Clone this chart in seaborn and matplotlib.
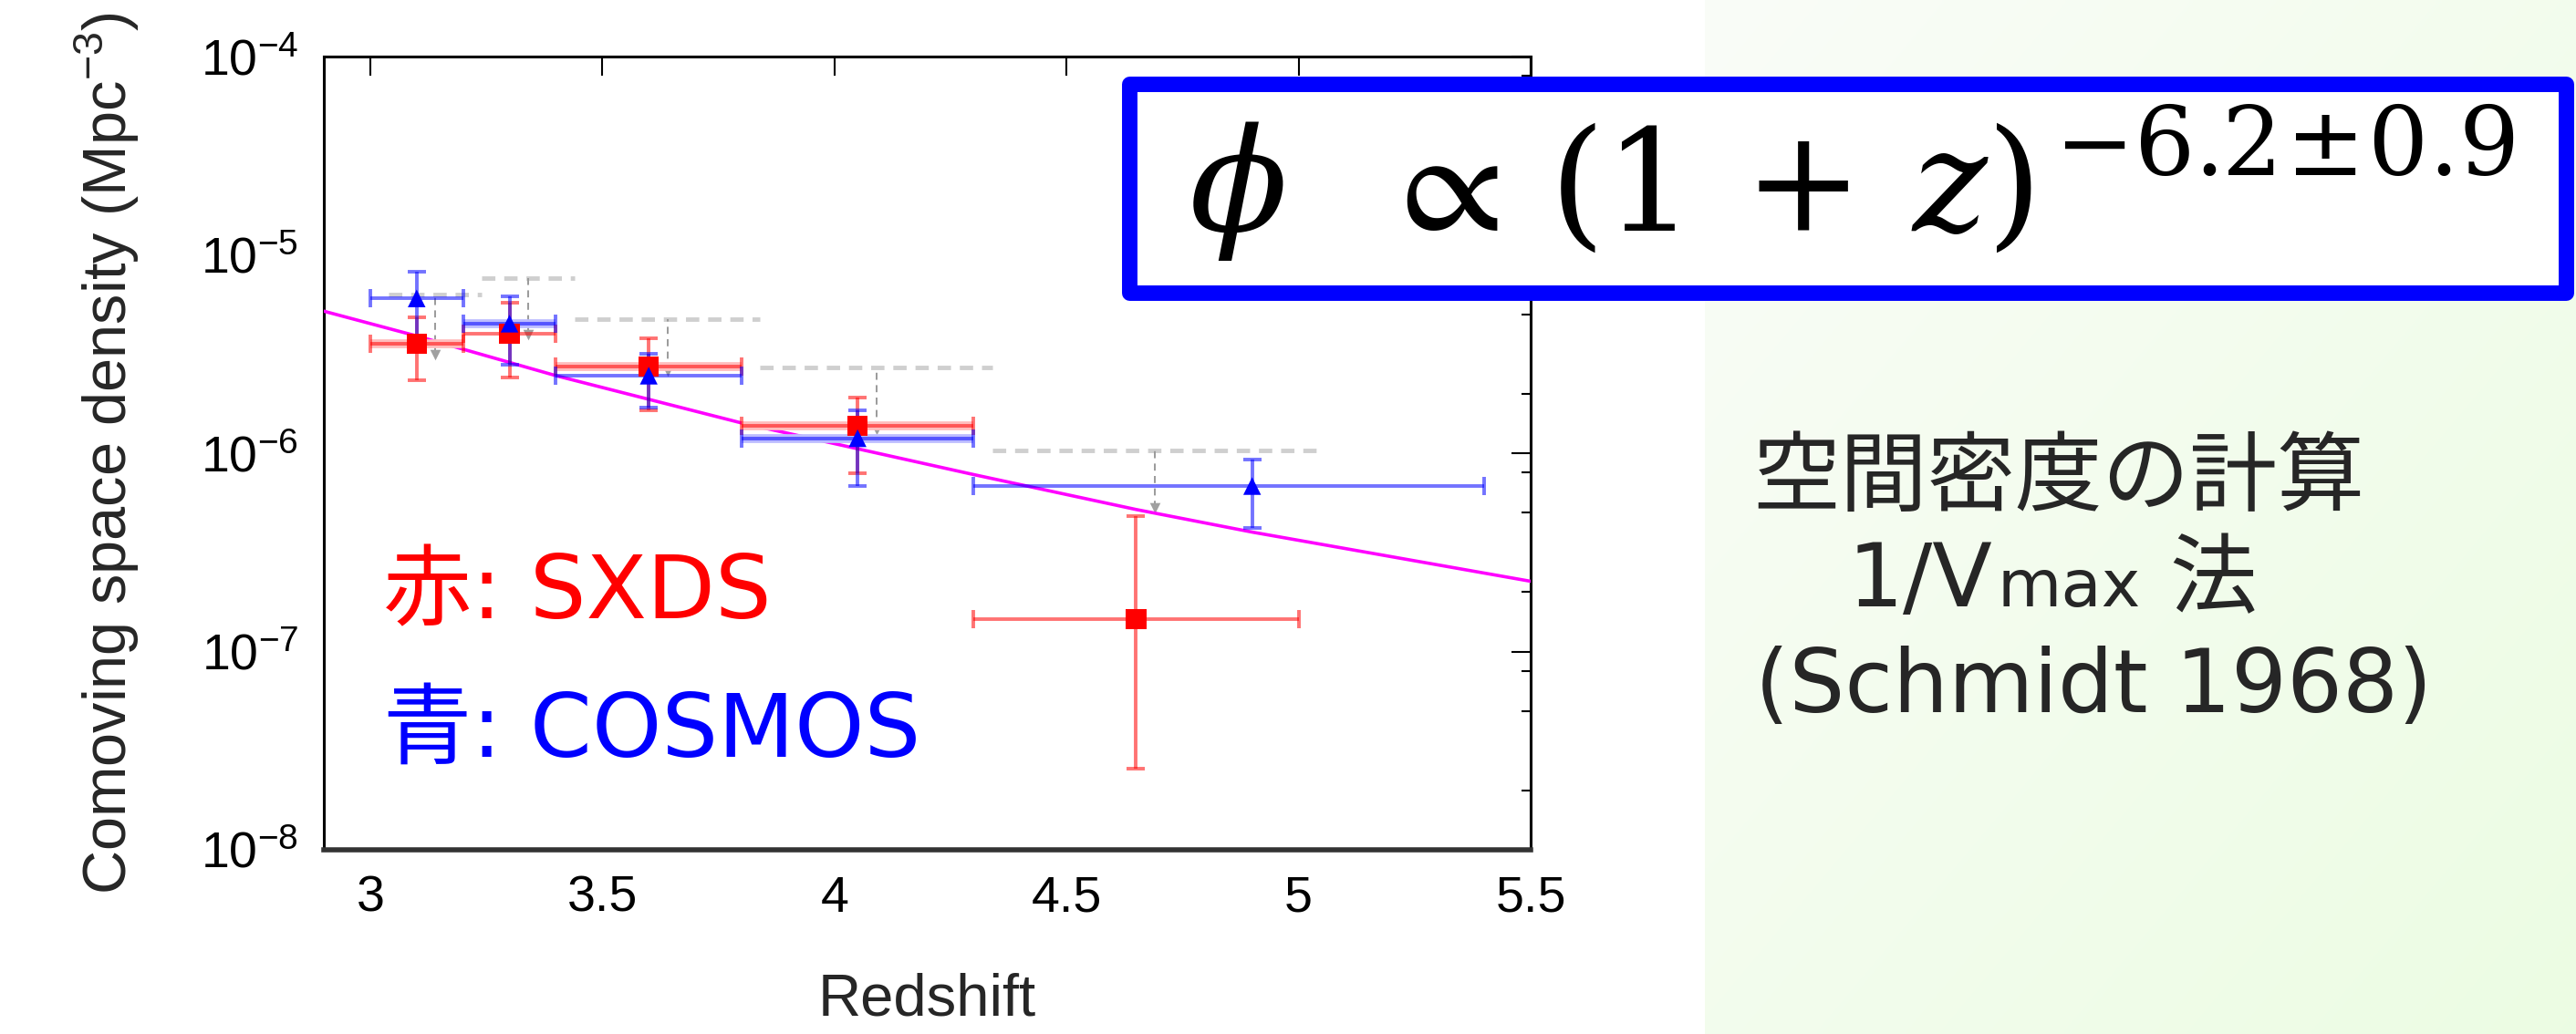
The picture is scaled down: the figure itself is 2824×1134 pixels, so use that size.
import numpy as np
import matplotlib
matplotlib.use("Agg")
import matplotlib.pyplot as plt
import seaborn as sns
from matplotlib.patches import Rectangle
from matplotlib.ticker import LogLocator, NullFormatter

# SXDS (red squares): redshift, bin edges, density and its error range
sxds_z = [3.1, 3.3, 3.6, 4.05, 4.65]
sxds_zlo = [3.0, 3.2, 3.4, 3.8, 4.3]
sxds_zhi = [3.2, 3.4, 3.8, 4.3, 5.0]
sxds_phi = [3.56e-6, 4.0e-6, 2.73e-6, 1.37e-6, 1.46e-7]
sxds_lo = [2.33e-6, 2.42e-6, 1.64e-6, 7.9e-7, 2.56e-8]
sxds_hi = [4.83e-6, 5.73e-6, 3.79e-6, 1.90e-6, 4.8e-7]

# COSMOS (blue triangles)
cosmos_z = [3.1, 3.3, 3.6, 4.05, 4.9]
cosmos_zlo = [3.0, 3.2, 3.4, 3.8, 4.3]
cosmos_zhi = [3.2, 3.4, 3.8, 4.3, 5.4]
cosmos_phi = [6.03e-6, 4.5e-6, 2.46e-6, 1.19e-6, 6.83e-7]
cosmos_lo = [3.8e-6, 2.78e-6, 1.70e-6, 6.83e-7, 4.18e-7]
cosmos_hi = [8.2e-6, 6.15e-6, 3.18e-6, 1.64e-6, 9.33e-7]

# grey upper limits (dashed level + arrow tip)
ul_z = [3.14, 3.34, 3.64, 4.09, 4.69]
ul_zlo = [3.04, 3.24, 3.44, 3.84, 4.34]
ul_zhi = [3.24, 3.44, 3.84, 4.34, 5.04]
ul_phi = [6.3e-6, 7.67e-6, 4.75e-6, 2.71e-6, 1.03e-6]
ul_tip = [3.15e-6, 3.98e-6, 2.59e-6, 1.32e-6, 5.3e-7]

# magenta fit line
fit_z = [2.9, 3.1, 3.4, 3.8, 4.3, 4.65, 4.9, 5.5]
fit_phi = [5.2e-6, 3.9e-6, 2.46e-6, 1.42e-6, 7.8e-7, 5.2e-7, 4.0e-7, 2.26e-7]

xticks = [3, 3.5, 4, 4.5, 5, 5.5]
xtick_labels = ['3', '3.5', '4', '4.5', '5', '5.5']

# which points show the wide pale horizontal bar
sxds_pale = [True, False, True, True, False]
cosmos_pale = [False, True, False, True, False]

sns.set_style('white')
plt.rcParams['font.family'] = ['Liberation Sans', 'Noto Sans CJK JP']
plt.rcParams['mathtext.fontset'] = 'custom'
plt.rcParams['mathtext.rm'] = 'Liberation Sans'
plt.rcParams['mathtext.it'] = 'Liberation Sans:italic'
plt.rcParams['mathtext.bf'] = 'Liberation Sans:bold'

W, H = 2824, 1134
fig = plt.figure(figsize=(W / 100, H / 100), dpi=100, facecolor='white')

# slide background gradient on the right
bg = fig.add_axes([1869 / W, 0, 1 - 1869 / W, 1], zorder=-1)
gx, gy = np.meshgrid(np.linspace(0, 1, 200), np.linspace(0, 1, 200))
tl = np.array([0.980, 0.990, 0.972])
br = np.array([0.925, 0.992, 0.890])
t = (gx + gy) / 2
grad = tl[None, None, :] * (1 - t[..., None]) + br[None, None, :] * t[..., None]
bg.imshow(grad, aspect='auto', extent=[0, 1, 0, 1], interpolation='bilinear')
bg.axis('off')

ax = fig.add_axes([355 / W, 1 - 932 / H, 1323 / W, 870 / H])
ax.set_facecolor('white')

# upper limits
ax.hlines(ul_phi, ul_zlo, ul_zhi, colors='#cfcfcf', linestyles=(0, (3, 2)), lw=3.5, zorder=2)
ax.vlines(ul_z, ul_tip, ul_phi, colors='#9a9a9a', linestyles=(0, (4, 3)), lw=1.4, zorder=2)
ax.scatter(ul_z, ul_tip, marker='v', s=70, color='#a0a0a0', zorder=2, linewidths=0)

# fit
sns.lineplot(x=fit_z, y=fit_phi, color='#ff00ff', lw=2.6, ax=ax, zorder=3, sort=False)


def draw_errors(z, zlo, zhi, phi, lo, hi, pale, color, pale_color):
    xerr = [np.subtract(z, zlo), np.subtract(zhi, z)]
    yerr = [np.subtract(phi, lo), np.subtract(hi, phi)]
    for i in range(len(z)):
        if pale[i]:
            ax.hlines(phi[i], zlo[i], zhi[i], colors=pale_color, lw=7, zorder=3)
    ax.errorbar(z, phi, xerr=xerr, yerr=yerr, fmt='none', ecolor=color, alpha=0.55,
                elinewidth=2.8, capsize=7.5, capthick=2.8, zorder=4)


draw_errors(sxds_z, sxds_zlo, sxds_zhi, sxds_phi, sxds_lo, sxds_hi, sxds_pale, '#ff0000', '#ffbcbc')
draw_errors(cosmos_z, cosmos_zlo, cosmos_zhi, cosmos_phi, cosmos_lo, cosmos_hi, cosmos_pale, '#0000ff', '#bcbcff')

sns.scatterplot(x=sxds_z, y=sxds_phi, marker='s', s=16 ** 2, color='#ff0000', edgecolor='none', ax=ax, zorder=5)
sns.scatterplot(x=cosmos_z, y=cosmos_phi, marker='^', s=14 ** 2, color='#0000ff', edgecolor='none', ax=ax, zorder=6)

ax.set_yscale('log')
ax.set_ylim(1e-8, 1e-4)
ax.set_xlim(2.9, 5.5)
ax.yaxis.set_major_locator(LogLocator(base=10, numticks=10))
ax.yaxis.set_minor_locator(LogLocator(base=10, subs=[2, 5, 8], numticks=10))
ax.yaxis.set_minor_formatter(NullFormatter())
ax.set_xticks(xticks)
ax.set_xticklabels(xtick_labels)
ax.tick_params(which='both', direction='in', top=True, right=True, colors='black')
ax.tick_params(which='major', length=15, width=1.5, labelsize=40, pad=20)
ax.tick_params(which='minor', length=7, width=1.5)
for s in ax.spines.values():
    s.set_linewidth(2.2)
    s.set_color('black')
ax.spines['bottom'].set_linewidth(4)
ax.spines['bottom'].set_color('#333333')

ax.set_ylabel('Comoving space density (Mpc$^{-3}$)', fontsize=48)
ax.yaxis.set_label_coords(-0.151, 0.5)
ax.set_xlabel('Redshift', fontsize=47)
ax.xaxis.set_label_coords(0.5, -0.155)

jp = ['DejaVu Sans', 'Noto Sans CJK JP']
fig.text(420 / W, 1 - 678 / H, '赤: SXDS', color='#ff0000', fontsize=70, family=jp, va='baseline')
fig.text(420 / W, 1 - 830 / H, '青: COSMOS', color='#0000ff', fontsize=70, family=jp, va='baseline')

# formula box
box = Rectangle((1237.5 / W, 1 - 320.5 / H), (2812.5 - 1237.5) / W, (320.5 - 91.5) / H,
                transform=fig.transFigure, lw=12.2, ec='#0000ff', fc='white', joinstyle='round', zorder=2)
fig.add_artist(box)
mf = dict(va='baseline', ha='left', zorder=4, color='black')
fig.text(1303 / W, 1 - 253 / H, r'$\phi$', fontsize=114, math_fontfamily='dejavuserif', **mf)
fig.text(1512 / W, 1 - 253 / H, r'$\propto$', fontsize=118, math_fontfamily='stix', **mf)
fig.text(1698 / W, 1 - 253 / H, r'$(1\,+\,z)$', fontsize=112, math_fontfamily='dejavuserif', **mf)
fig.text(2252 / W, 1 - 192 / H, r'$-6.2\!\pm\!0.9$', fontsize=75, math_fontfamily='dejavuserif', **mf)

# right-hand notes
fig.text(1921 / W, 1 - 553 / H, '空間密度の計算', fontsize=69, family=jp, va='baseline')
fig.text(2025 / W, 1 - 665 / H, '1/V', fontsize=69, family=jp, va='baseline')
fig.text(2189 / W, 1 - 665 / H, 'max', fontsize=52, family=jp, va='baseline')
fig.text(2378 / W, 1 - 665 / H, '法', fontsize=69, family=jp, va='baseline')
fig.text(1924 / W, 1 - 781 / H, '(Schmidt 1968)', fontsize=69, family=jp, va='baseline')

fig.savefig('out.png', dpi=100)
